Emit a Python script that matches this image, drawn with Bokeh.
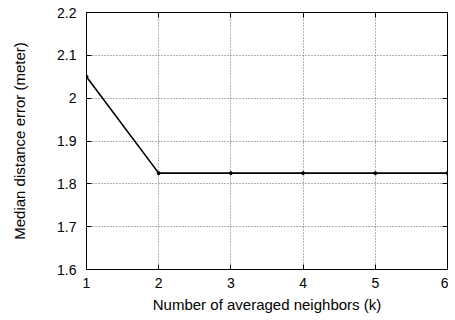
from bokeh.plotting import figure
from bokeh.models import LinearAxis, Range1d, FixedTicker, CustomJSTickFormatter
from bokeh.embed import file_html
from bokeh.resources import INLINE

k_values = [1, 2, 3, 4, 5, 6]
median_error = [2.05, 1.825, 1.825, 1.825, 1.825, 1.825]
x_ticks = [1, 2, 3, 4, 5, 6]
y_ticks = [1.6, 1.7, 1.8, 1.9, 2.0, 2.1, 2.2]
y_tick_labels = {1.6: "1.6", 1.7: "1.7", 1.8: "1.8", 1.9: "1.9", 2.0: "2", 2.1: "2.1", 2.2: "2.2"}

FONT = "Liberation Sans"

p = figure(width=448, height=318, output_backend="svg", toolbar_location=None,
           x_range=Range1d(1, 6), y_range=Range1d(1.6, 2.2),
           min_border_left=86, min_border_right=1, min_border_top=12, min_border_bottom=49)

p.outline_line_color = "black"
p.outline_line_width = 1
p.background_fill_color = "white"
p.border_fill_color = "white"

def style_axis(ax, ticks):
    ax.ticker = FixedTicker(ticks=ticks)
    ax.major_tick_in = 5
    ax.major_tick_out = 0
    ax.minor_tick_in = 0
    ax.minor_tick_out = 0
    ax.axis_line_color = "black"
    ax.major_tick_line_color = "black"
    ax.major_label_text_font = FONT
    ax.major_label_text_font_size = "14px"
    ax.major_label_text_color = "black"
    ax.axis_label_text_font = FONT
    ax.axis_label_text_font_size = "15px"
    ax.axis_label_text_font_style = "normal"
    ax.axis_label_text_color = "black"

style_axis(p.xaxis[0], x_ticks)
style_axis(p.yaxis[0], y_ticks)
p.yaxis[0].major_label_overrides = y_tick_labels
p.xaxis[0].axis_label = "Number of averaged neighbors (k)"
p.yaxis[0].axis_label = "Median distance error (meter)"
p.xaxis[0].major_label_standoff = 8
p.xaxis[0].axis_label_standoff = 5
p.yaxis[0].major_label_standoff = 10
p.yaxis[0].axis_label_standoff = 26

top_axis = LinearAxis(formatter=CustomJSTickFormatter(code="return '';"))
style_axis(top_axis, x_ticks)
top_axis.major_label_standoff = 0
p.add_layout(top_axis, "above")

right_axis = LinearAxis(formatter=CustomJSTickFormatter(code="return '';"))
style_axis(right_axis, y_ticks)
right_axis.major_label_standoff = 0
p.add_layout(right_axis, "right")

p.xgrid.ticker = FixedTicker(ticks=x_ticks)
p.ygrid.ticker = FixedTicker(ticks=y_ticks)
for g in (p.xgrid[0], p.ygrid[0]):
    g.grid_line_color = "#666666"
    g.grid_line_dash = "1 2"
    g.grid_line_width = 1

p.line(k_values, median_error, line_color="black", line_width=1.6)
p.scatter(k_values, median_error, size=3, color="black")

p.toolbar.logo = None

html = file_html(p, INLINE)
open("out.html", "w").write(html)
